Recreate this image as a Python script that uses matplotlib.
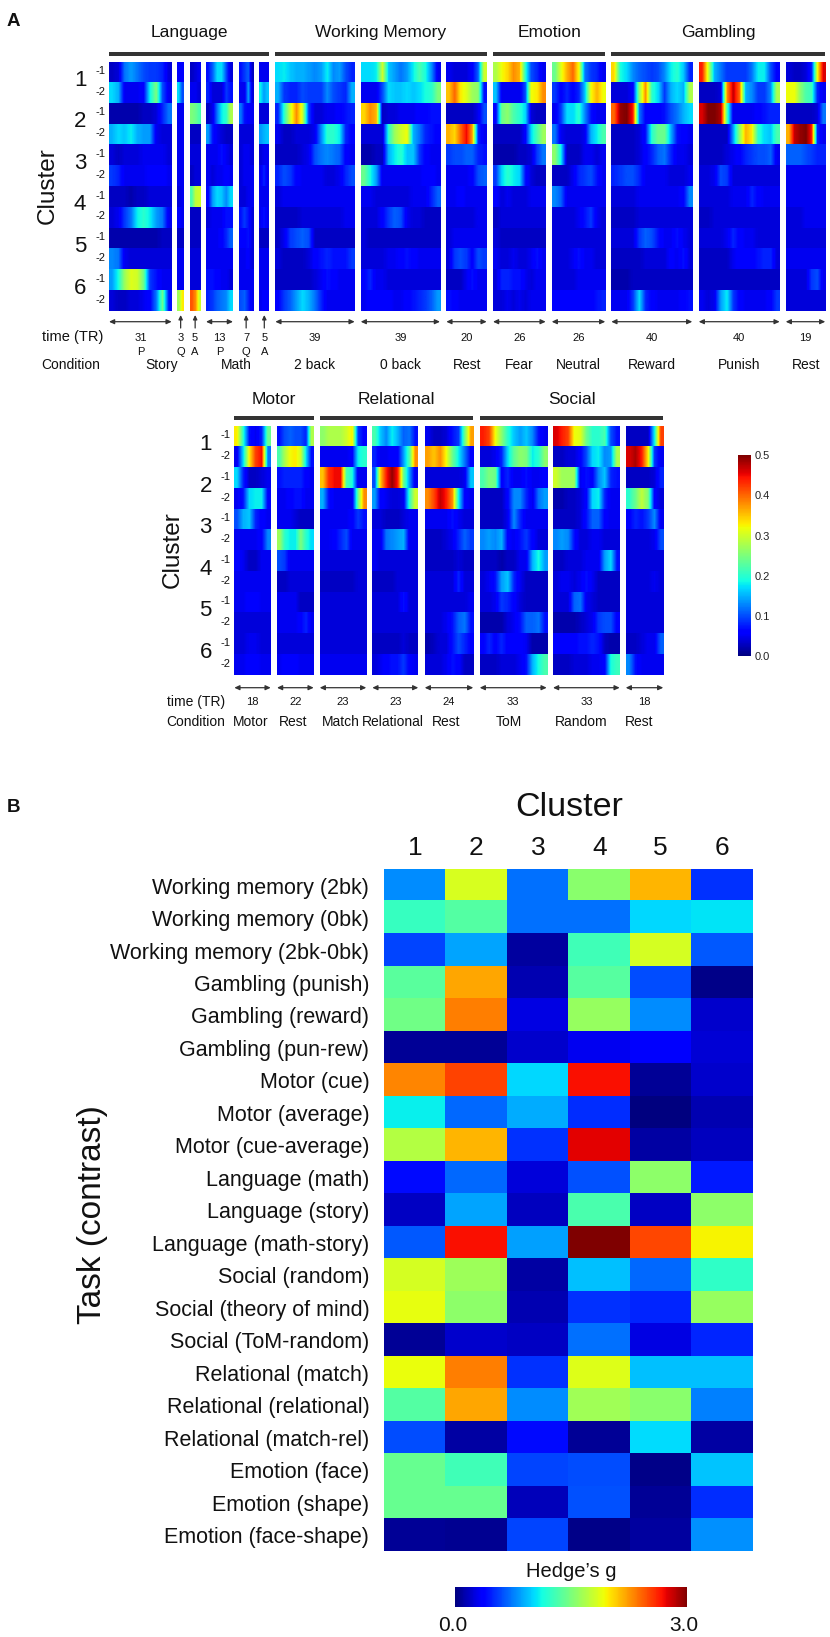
import numpy as np
import matplotlib
matplotlib.use('Agg')
import matplotlib.pyplot as plt

plt.rcParams['font.family'] = ['Liberation Sans', 'DejaVu Sans']

W, H = 830, 1637

# mean activation per time bin, in hundredths, rows are cluster 1-1, 1-2, 2-1 ... 6-2
story_p = [[3,4,12,14,12,10,9,9,8,4],[17,15,5,5,5,6,18,25,10,5],[2,2,2,2,2,3,3,4,8,12],[15,17,16,18,15,14,14,5,4,4],
           [4,3,4,4,4,5,5,5,5,4],[9,8,5,5,5,5,6,6,6,5],[3,3,3,2,3,3,4,4,4,4],[4,5,9,12,18,20,18,14,12,5],
           [2,2,2,2,2,2,2,2,3,3],[13,12,5,4,4,4,4,4,4,4],[14,19,27,31,30,24,9,7,5,5],[4,3,3,4,4,5,6,12,24,7]]
story_q = [[6,6],[17,10],[5,5],[5,5],[5,5],[5,5],[4,5],[6,5],[3,3],[5,5],[5,5],[27,33]]
story_a = [[3,4,5],[5,5,4],[25,24,22],[3,3,3],[4,4,4],[3,4,4],[22,29,30],[3,3,3],[3,3,3],[4,4,4],[4,4,4],[41,38,30]]
math_p = [[7,11,17,17,10,4],[8,4,4,4,9,7],[3,5,12,18,20,28],[14,7,5,4,3,3],[5,5,5,7,5,4],[5,4,5,5,6,5],
          [6,14,17,16,13,17],[4,5,5,5,7,7],[5,5,5,6,8,11],[5,5,5,5,5,5],[7,7,6,5,5,4],[8,9,11,12,13,17]]
math_q = [[7,9,11,3],[5,5,14,4],[12,7,6,5],[4,4,4,4],[4,5,5,4],[4,5,5,5],[4,4,5,5],[7,9,7,4],[6,6,7,4],[5,5,6,4],[5,5,5,5],[10,11,8,5]]
math_a = [[5,5,5],[18,14,16],[4,4,4],[14,15,16],[4,5,5],[5,8,5],[5,5,5],[5,7,5],[3,3,3],[5,5,5],[5,5,5],[5,6,6]]
back2 = [[17,18,16,15,15,14,13,14,18,13,14,10,8],[15,9,8,8,10,9,9,9,13,10,9,8,15],[8,20,30,38,30,9,4,4,5,5,6,7,8],
         [5,3,3,4,4,4,5,13,20,20,18,8,6],[3,3,3,3,4,5,10,12,13,12,11,6,5],[8,10,9,6,5,5,5,5,4,4,5,8,10],
         [4,5,5,5,5,5,5,5,5,5,5,5,5],[3,3,3,3,4,4,4,4,4,4,4,5,5],[3,5,9,10,11,10,3,3,3,3,3,3,3],
         [4,3,3,3,3,4,6,7,8,7,7,7,9],[3,3,3,3,3,3,4,5,7,6,5,5,5],[6,9,11,14,17,15,12,8,5,5,5,5,5]]
back0 = [[17,17,18,30,16,14,12,14,18,22,19,13,5],[5,5,5,10,17,16,16,17,16,17,19,20,25],[34,38,36,3,4,4,5,5,5,6,6,7,7],
         [4,4,4,4,20,27,30,32,15,12,8,7,6],[2,2,3,3,15,18,20,16,16,9,6,5,5],[24,19,14,5,5,5,5,5,5,5,6,6,5],
         [5,5,4,4,4,4,4,4,5,5,5,8,11],[4,4,4,6,9,11,10,5,4,4,3,3,3],[4,3,3,3,3,3,3,3,3,3,3,3,3],
         [4,4,4,4,5,5,6,7,6,5,5,5,5],[6,8,5,5,4,4,4,4,4,4,4,4,4],[5,6,6,6,6,5,5,6,7,8,9,11,14]]
rest_wm = [[5,4,4,4,6,11,30],[35,40,33,31,27,26,7],[3,3,3,3,3,5,10],[36,34,40,45,37,8,5],[9,10,10,11,11,8,7],[5,5,5,5,6,10,11],
           [5,5,6,5,5,5,5],[4,4,4,4,4,5,5],[4,5,5,5,5,5,5],[4,9,10,9,6,10,9],[3,3,3,5,7,5,5],[7,6,5,5,5,5,5]]
fear = [[28,32,34,38,36,20,10,8,5],[16,5,5,5,5,10,32,33,38],[6,24,26,22,20,17,4,3,3],[3,3,3,3,3,6,17,22,27],
        [2,2,2,2,3,3,4,9,12],[9,17,20,18,17,7,4,3,3],[6,4,5,4,4,4,5,5,5],[3,4,4,4,4,4,4,4,4],
        [4,3,3,3,3,3,3,3,3],[5,4,4,5,4,4,5,7,5],[4,8,8,7,7,5,4,5,5],[4,4,5,4,5,4,5,5,5]]
neutral = [[24,31,36,40,32,12,9,8,5],[9,6,8,6,8,16,32,36,32],[5,9,17,17,20,13,7,5,5],[12,5,4,4,4,5,15,18,22],
           [26,18,3,3,3,5,5,4,5],[3,3,3,5,8,9,10,7,5],[13,11,5,5,5,5,5,5,5],[4,4,4,4,5,7,9,5,4],
           [4,4,4,4,4,4,4,4,4],[4,4,4,5,7,5,5,4,4],[4,4,4,4,5,5,5,5,5],[6,6,6,6,6,6,6,7,8]]
reward = [[34,19,17,13,11,10,9,10,13,18,20,16,8],[4,4,4,6,26,38,20,17,9,15,17,15,28],[40,49,50,44,12,6,6,6,7,10,12,15,17],
          [3,3,3,3,4,7,20,24,24,15,7,6,5],[3,3,3,3,4,6,8,11,12,8,5,5,4],[8,9,10,10,8,5,5,5,5,4,4,4,5],
          [4,4,4,4,5,5,5,5,5,5,5,6,13],[3,3,3,3,4,4,4,4,4,4,4,4,4],[4,4,4,4,9,11,10,7,5,5,7,5,4],
          [3,3,3,3,3,4,4,4,4,6,5,7,4],[2,2,2,3,3,3,3,3,3,3,3,3,3],[5,5,5,9,17,8,6,5,5,5,5,6,7]]
punish = [[44,30,15,12,9,9,9,9,12,18,18,10,6],[3,3,3,4,38,47,40,15,13,9,9,13,28],[46,50,50,48,22,5,5,5,5,6,7,8,8],
          [3,3,3,3,3,14,26,36,33,20,17,16,22],[3,3,3,3,4,5,6,8,9,10,10,11,5],[4,4,5,10,9,4,4,4,4,4,4,4,4],
          [4,4,4,4,4,5,5,5,8,6,5,5,5],[3,3,4,4,4,4,4,4,4,4,4,4,4],[4,4,4,4,5,8,6,5,5,4,4,4,4],
          [3,3,3,3,3,5,6,6,6,7,8,8,4],[3,3,3,3,3,3,3,3,3,3,3,3,3],[5,4,5,14,18,9,6,5,5,5,5,6,9]]
rest_gamb = [[4,3,3,4,8,32,46],[32,32,26,22,21,8,5],[3,3,3,3,3,4,12],[36,47,49,50,44,8,5],[11,11,11,10,9,8,8],[5,5,5,5,5,5,5],
             [5,5,5,5,5,5,5],[4,4,4,5,5,5,5],[4,4,4,4,4,4,4],[5,5,5,5,5,5,5],[4,4,4,4,9,10,5],[4,4,4,4,4,4,4]]

motor = [[33,20,7,5,8,24],[5,17,33,42,45,12],[17,8,3,3,4,5],[5,7,17,18,18,6],[10,15,16,8,6,5],[5,5,5,5,6,13],
         [6,5,3,3,5,5],[5,5,5,5,5,5],[5,5,6,6,5,5],[4,4,4,4,4,4],[4,4,5,5,4,4],[5,5,6,6,5,5]]
rest_motor = [[7,10,11,10,10,8,28],[22,28,32,33,30,17,7],[7,8,8,8,8,6,5],[5,5,6,7,7,5,5],[5,5,5,4,3,3,3],[27,20,18,18,25,20,17],
              [10,9,5,5,5,5,5],[3,3,4,4,4,4,4],[5,5,5,5,3,3,3],[5,5,5,5,6,8,5],[4,4,4,4,4,4,4],[5,6,6,6,5,5,5]]
match = [[26,28,28,28,30,33,9,6],[5,5,5,5,5,6,18,20],[35,43,45,45,22,19,5,5],[15,7,5,5,5,5,24,38],[5,5,5,5,5,6,9,7],[5,5,6,8,10,5,5,5],
         [4,4,4,4,4,4,4,4],[3,3,3,3,3,3,4,4],[4,4,4,4,4,4,4,4],[4,4,4,4,4,4,4,4],[4,4,4,4,4,4,4,4],[5,5,5,5,5,5,5,5]]
relational = [[22,16,13,18,15,11,12,7],[8,5,5,6,6,14,22,38],[10,35,44,49,44,24,14,5],[14,6,5,4,4,5,20,30],[4,4,3,3,3,4,5,5],[5,5,12,13,14,15,5,5],
              [5,4,4,4,4,4,4,4],[3,3,3,3,4,4,4,4],[4,4,4,4,4,7,4,4],[4,4,4,4,4,4,4,4],[3,3,3,3,3,4,3,3],[4,5,6,7,7,9,6,5]]
rest_rel = [[5,3,3,4,7,9,24,37],[37,35,38,32,24,18,12,6],[4,4,4,4,4,4,5,16],[38,42,47,44,38,18,6,5],[5,5,5,5,7,5,4,4],[3,3,3,4,5,8,11,9],
            [3,3,3,3,3,4,3,3],[4,4,4,4,4,8,4,4],[4,4,4,4,4,4,4,5],[4,4,4,5,7,11,12,7],[2,3,4,4,7,10,8,6],[4,4,4,5,7,6,3,3]]
tom = [[44,42,32,26,20,16,14,16,13,7,5],[4,4,5,8,17,23,26,25,18,20,26],[22,25,24,6,8,5,5,7,5,5,6],[3,3,3,3,6,13,13,8,5,12,14],
       [3,3,3,3,5,13,8,5,5,5,5],[13,14,13,15,6,5,7,9,6,4,4],[3,3,3,2,3,3,5,5,15,19,14],[4,5,7,14,16,8,5,3,3,3,3],
       [4,4,5,9,8,6,4,3,3,3,3],[2,2,2,2,4,5,7,11,11,12,7],[6,8,6,8,6,6,6,5,2,2,2],[3,3,3,4,4,4,5,7,15,19,22]]
random_soc = [[46,44,42,32,31,24,20,20,22,10,7],[3,3,4,4,6,10,17,18,13,14,28],[30,27,27,27,5,7,6,13,16,8,7],[2,2,3,3,4,6,17,18,8,5,5],
              [3,3,3,3,4,7,11,11,6,5,5],[13,14,13,7,4,4,5,5,4,4,4],[3,3,4,4,4,5,5,5,14,17,7],[4,5,5,4,5,7,5,3,3,3,3],
              [4,4,4,11,12,5,4,3,3,3,3],[2,2,2,2,3,4,5,9,10,10,6],[6,6,6,6,7,7,8,7,3,2,2],[3,3,3,4,4,4,5,5,6,19,21]]
rest_soc = [[3,3,3,3,18,42],[46,48,44,33,9,5],[3,3,3,3,4,8],[20,24,29,25,6,4],[6,8,7,9,13,5],[4,4,4,4,5,10],
            [4,4,4,4,4,4],[4,4,4,4,5,4],[4,4,4,4,4,4],[4,4,4,4,4,4],[3,3,4,5,5,11],[13,7,5,5,5,5]]

tr_top = ['31', '3', '5', '13', '7', '5', '39', '39', '20', '26', '26', '40', '40', '19']
tr_bottom = ['18', '22', '23', '23', '24', '33', '33', '18']
sub_labels = ['P', 'Q', 'A', 'P', 'Q', 'A']
cond_top = ['Story', 'Math', '2 back', '0 back', 'Rest', 'Fear', 'Neutral', 'Reward', 'Punish', 'Rest']
cond_bottom = ['Motor', 'Rest', 'Match', 'Relational', 'Rest', 'ToM', 'Random', 'Rest']

tasks = ['Working memory (2bk)', 'Working memory (0bk)', 'Working memory (2bk-0bk)', 'Gambling (punish)',
         'Gambling (reward)', 'Gambling (pun-rew)', 'Motor (cue)', 'Motor (average)', 'Motor (cue-average)',
         'Language (math)', 'Language (story)', 'Language (math-story)', 'Social (random)',
         'Social (theory of mind)', 'Social (ToM-random)', 'Relational (match)', 'Relational (relational)',
         'Relational (match-rel)', 'Emotion (face)', 'Emotion (shape)', 'Emotion (face-shape)']
hedges_g = [[.79,1.83,.71,1.55,2.15,.52],
            [1.25,1.35,.71,.71,1.01,1.05],
            [.58,.86,.09,1.28,1.82,.64],
            [1.38,2.2,.13,1.37,.6,.03],
            [1.46,2.33,.26,1.6,.79,.2],
            [.07,.07,.2,.3,.33,.23],
            [2.3,2.51,1.01,2.68,.07,.2],
            [1.08,.68,.88,.51,0,.13],
            [1.7,2.15,.52,2.74,.1,.17],
            [.41,.68,.24,.62,1.56,.45],
            [.18,.86,.17,1.32,.18,1.56],
            [.64,2.68,.85,3.0,2.5,1.95],
            [1.82,1.62,.1,.94,.69,1.23],
            [1.89,1.56,.13,.52,.49,1.6],
            [.07,.2,.18,.71,.26,.49],
            [1.9,2.33,.52,1.86,.94,.94],
            [1.35,2.2,.79,1.64,1.55,.75],
            [.6,.1,.41,.07,1.03,.1],
            [1.42,1.28,.58,.6,.03,.96],
            [1.42,1.42,.16,.62,.07,.51],
            [.07,.05,.58,.03,.09,.8]]

fig = plt.figure(figsize=(W / 100, H / 100), dpi=100, facecolor='white')


def add_box(x0, y0, x1, y1):
    # pixel box with origin at the top left
    return fig.add_axes([x0 / W, 1 - y1 / H, (x1 - x0) / W, (y1 - y0) / H])


# overlay in pixel coordinates for headings, arrows and labels
ov = fig.add_axes([0, 0, 1, 1], zorder=5)
ov.set_xlim(0, W)
ov.set_ylim(H, 0)
ov.axis('off')
ov.patch.set_alpha(0)


def draw_block(data, x0, x1, y0, y1):
    ax = add_box(x0, y0, x1, y1)
    values = np.array(data) / 100
    n_rows, n_cols = values.shape
    # blue ground under each block so resampled edges do not fade to white
    ax.set_facecolor('#0000c8')
    # one image per row: soft along time, hard edge between rows
    for r in range(n_rows):
        im = ax.imshow(values[r:r + 1], cmap='jet', vmin=0, vmax=0.5, aspect='auto', interpolation='bilinear',
                       extent=(0, n_cols, r + 1, r))
    ax.set_xlim(0, n_cols)
    ax.set_ylim(n_rows, 0)
    ax.set_xticks([])
    ax.set_yticks([])
    for side in ax.spines.values():
        side.set_visible(False)
    return im


def h_arrow(x0, x1, y):
    ov.annotate('', xy=(x1, y), xytext=(x0, y),
                arrowprops=dict(arrowstyle='<|-|>,head_width=0.14,head_length=0.3', color='#333333', lw=0.9,
                                shrinkA=0, shrinkB=0))


def up_arrow(x, y0, y1):
    ov.annotate('', xy=(x, y0), xytext=(x, y1),
                arrowprops=dict(arrowstyle='-|>,head_width=0.12,head_length=0.25', color='#333333', lw=0.9,
                                shrinkA=0, shrinkB=0))


def cluster_labels(xnum, xsub, xtitle, y0, y1):
    rh = (y1 - y0) / 12
    for i in range(6):
        ov.text(xnum, y0 + rh * (2 * i + 0.9), str(i + 1), fontsize=16, ha='center', va='center', color='#111111')
        ov.text(xsub, y0 + rh * (2 * i + 0.45), '-1', fontsize=8, ha='center', va='center', color='#111111')
        ov.text(xsub, y0 + rh * (2 * i + 1.45), '-2', fontsize=8, ha='center', va='center', color='#111111')
    ov.text(xtitle, y0 + (y1 - y0) * 0.497, 'Cluster', fontsize=17.5, rotation=90, ha='center', va='center', color='#111111')


# panel A, upper row
top_blocks = [story_p, story_q, story_a, math_p, math_q, math_a, back2, back0, rest_wm, fear, neutral, reward, punish, rest_gamb]
top_x = [(109, 171.7), (177.3, 184), (190, 200.3), (206, 233), (239, 253.3), (259.3, 269.3), (275.3, 354.7),
         (360.7, 440), (446.3, 486.7), (493, 545.7), (551.7, 605.3), (611.3, 692.3), (698.7, 779.7), (785.7, 825.3)]
up_arrows = [1, 2, 4, 5]
for i, (block, (x0, x1)) in enumerate(zip(top_blocks, top_x)):
    draw_block(block, x0, x1, 61.5, 311)
    xc = (x0 + x1) / 2
    if i in up_arrows:
        up_arrow(xc, 315, 328)
    else:
        h_arrow(x0, x1, 321.7)
    ov.text(xc, 338, tr_top[i], fontsize=8, ha='center', va='center', color='#111111')
    if i < 6:
        ov.text(xc, 352, sub_labels[i], fontsize=8, ha='center', va='center', color='#111111')

cond_top_x = [162, 236, 315, 400, 466.7, 519, 578, 651.7, 739, 805.7]
for label, x in zip(cond_top, cond_top_x):
    ov.text(x, 365, label, fontsize=10, ha='center', va='center', color='#111111')
ov.text(41.7, 337.5, 'time (TR)', fontsize=10.5, ha='left', va='center', color='#111111')
ov.text(41.7, 365, 'Condition', fontsize=10, ha='left', va='center', color='#111111')

top_heads = [('Language', 109, 269.3), ('Working Memory', 275.3, 486.7), ('Emotion', 493, 605.3), ('Gambling', 611.3, 825.3)]
for name, x0, x1 in top_heads:
    ov.fill_between([x0, x1], 51.8, 56.2, color='#333333', lw=0)
    ov.text((x0 + x1) / 2, 32.5, name, fontsize=12.5, ha='center', va='center', color='#111111')
cluster_labels(80, 100, 47.5, 61.5, 311)

# panel A, lower row
bottom_blocks = [motor, rest_motor, match, relational, rest_rel, tom, random_soc, rest_soc]
bottom_x = [(234.3, 270.7), (277, 313.7), (319.7, 366.3), (372.3, 418.3), (424.7, 473.3), (479.7, 546.7), (553, 619.7), (625.7, 663.3)]
for i, (block, (x0, x1)) in enumerate(zip(bottom_blocks, bottom_x)):
    im_a = draw_block(block, x0, x1, 426, 675)
    h_arrow(x0, x1, 687.7)
    ov.text((x0 + x1) / 2, 702, tr_bottom[i], fontsize=8, ha='center', va='center', color='#111111')

cond_bottom_x = [251, 293.6, 340.6, 392.5, 446, 509, 581, 639]
for label, x in zip(cond_bottom, cond_bottom_x):
    ov.text(x, 722, label, fontsize=10, ha='center', va='center', color='#111111')
ov.text(166.7, 702, 'time (TR)', fontsize=10, ha='left', va='center', color='#111111')
ov.text(166.7, 722, 'Condition', fontsize=10, ha='left', va='center', color='#111111')

bottom_heads = [('Motor', 234.3, 313.7), ('Relational', 319.7, 473.3), ('Social', 479.7, 663.3)]
for name, x0, x1 in bottom_heads:
    ov.fill_between([x0, x1], 415.5, 419.8, color='#333333', lw=0)
    ov.text((x0 + x1) / 2, 399, name, fontsize=12.5, ha='center', va='center', color='#111111')
cluster_labels(205.7, 225, 173, 426, 675)

cax_a = add_box(738.3, 455.3, 750.7, 656)
cb_a = fig.colorbar(im_a, cax=cax_a, ticks=[0, 0.1, 0.2, 0.3, 0.4, 0.5])
cb_a.ax.set_yticklabels(['0.0', '0.1', '0.2', '0.3', '0.4', '0.5'])
cb_a.ax.tick_params(length=0, pad=3, labelsize=8, labelcolor='#222222')
cb_a.outline.set_visible(False)

# panel B
ax_b = add_box(384.3, 869.3, 752.7, 1551.5)
im_b = ax_b.imshow(hedges_g, cmap='jet', vmin=0, vmax=3, aspect='auto', interpolation='nearest')
ax_b.xaxis.tick_top()
ax_b.set_xticks(range(6), ['1', '2', '3', '4', '5', '6'], fontsize=19)
ax_b.set_yticks(range(len(tasks)), tasks, fontsize=15.5)
ax_b.tick_params(length=0, colors='#111111')
ax_b.tick_params(axis='y', pad=10.8)
ax_b.tick_params(axis='x', pad=7)
for side in ax_b.spines.values():
    side.set_visible(False)

ov.text(569, 808, 'Cluster', fontsize=24.5, ha='center', va='center', color='#111111')
ov.text(92, 1215, 'Task (contrast)', fontsize=24, rotation=90, ha='center', va='center', color='#111111')
ov.text(571.7, 1571.7, 'Hedge\u2019s g', fontsize=14.5, ha='center', va='center', color='#111111')

cax_b = add_box(455.3, 1586.7, 687.3, 1606.7)
cb_b = fig.colorbar(im_b, cax=cax_b, orientation='horizontal', ticks=[])
cb_b.outline.set_visible(False)
ov.text(452.8, 1625.7, '0.0', fontsize=15, ha='center', va='center', color='#111111')
ov.text(684, 1625.7, '3.0', fontsize=15, ha='center', va='center', color='#111111')

ov.text(7, 22, 'A', fontsize=13.5, fontweight='bold', ha='left', va='center', color='#111111')
ov.text(6.5, 808, 'B', fontsize=13.5, fontweight='bold', ha='left', va='center', color='#111111')

fig.savefig('out.png', dpi=100)
